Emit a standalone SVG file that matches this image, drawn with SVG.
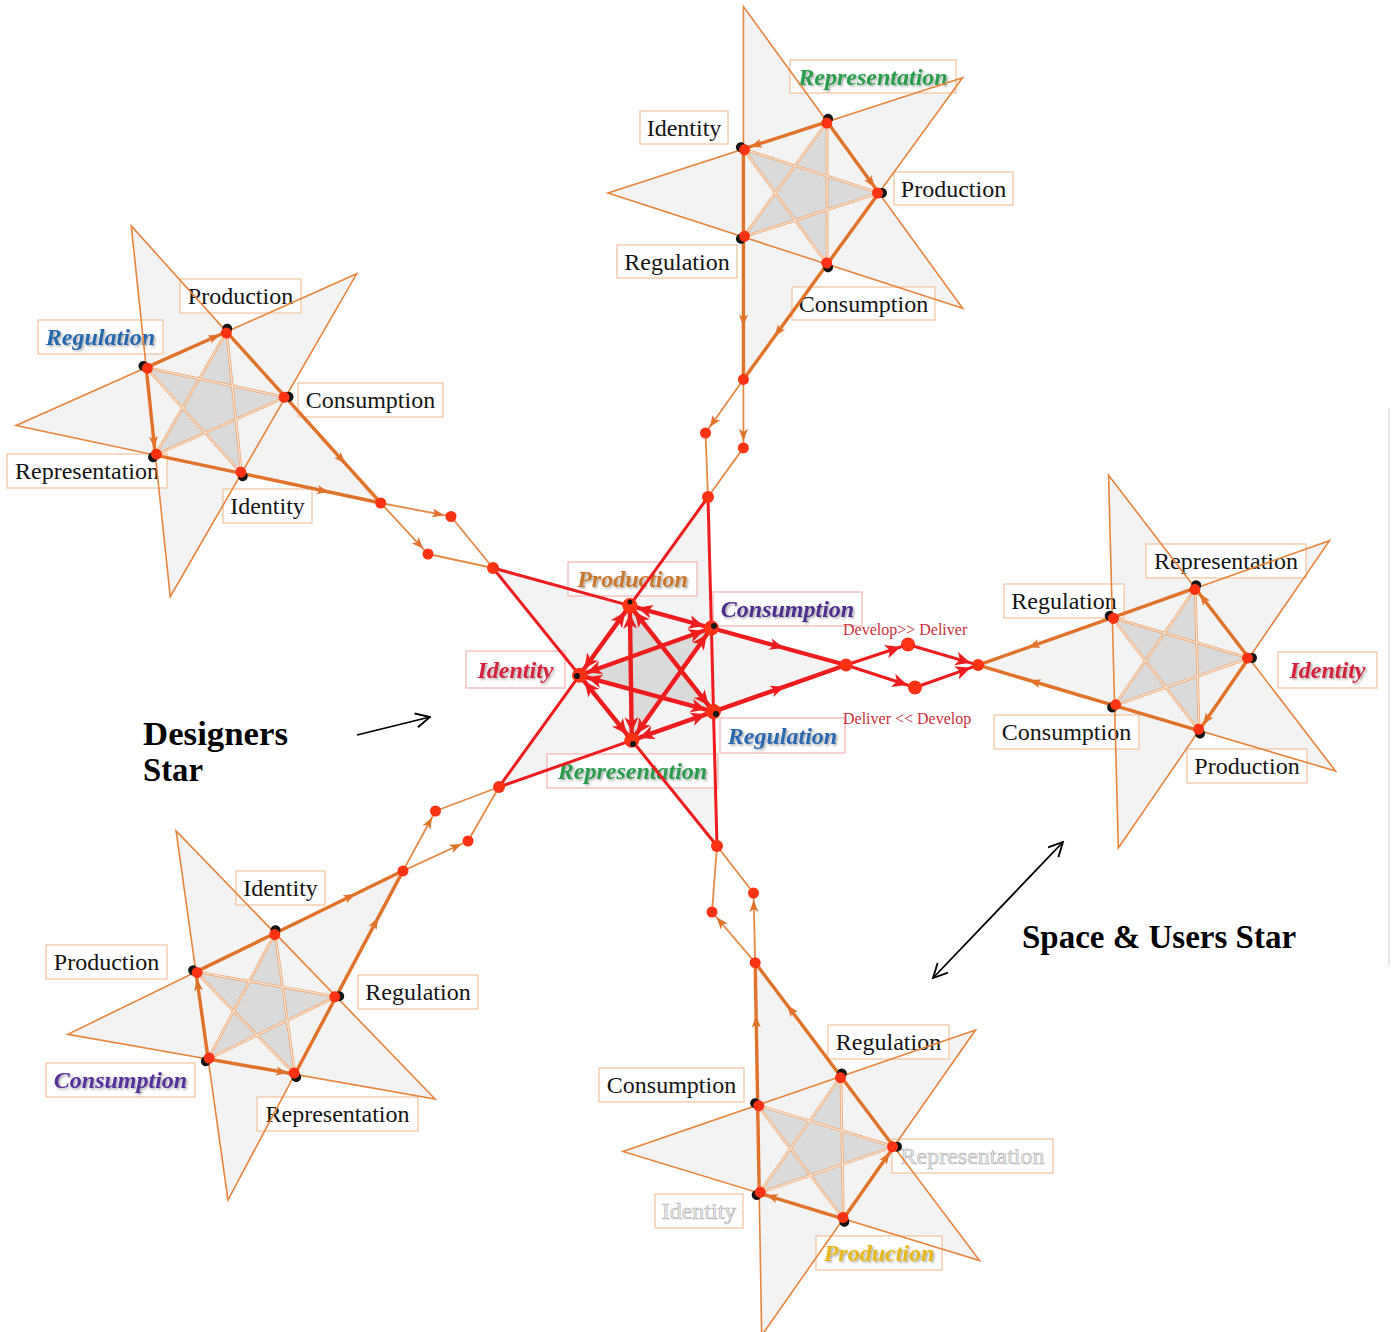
<svg xmlns="http://www.w3.org/2000/svg" xmlns:xlink="http://www.w3.org/1999/xlink" width="1395" height="1332" viewBox="0 0 1395 1332">
<style>
  .sf { fill:#f3f3f3; }
  .pf { fill:#dadada; }
  .so { fill:none; stroke:#e8843a; stroke-width:1.6; stroke-linejoin:miter; }
  .dg { fill:none; stroke:#f0aa76; stroke-width:2.8; }
  .dg2 { fill:none; stroke:#fcebdc; stroke-width:1; }
  .fl { fill:none; stroke:#e0722a; stroke-width:3.4; stroke-linejoin:round; }
  .mk { fill:none; stroke:none; }
  .oc { fill:none; stroke:#e58a45; stroke-width:1.8; }
  .bd { fill:#151515; }
  .rd { fill:#ff3214; }
  .lb { fill:#ffffff; stroke:#f1c6a2; stroke-width:1.3; }
  .lt { font-family:"Liberation Serif","Times New Roman",serif; font-size:24px; fill:#141414; text-anchor:middle; }
  .it { font-style:italic; font-weight:bold; filter:url(#sh); }
  .fd { fill:#ececec; stroke:#b4b4b4; stroke-width:0.7; }
  .rt { fill:none; stroke:#ee1c1c; stroke-width:3; }
  .rk { fill:none; stroke:#ee1c1c; stroke-width:4.4; stroke-linecap:round; }
  .small { font-family:"Liberation Serif","Times New Roman",serif; font-size:16px; fill:#c9303c; }
  .big { font-family:"Liberation Serif","Times New Roman",serif; font-size:33px; font-weight:bold; fill:#000; }
  .ka { fill:none; stroke:#000; stroke-width:1.8; }
</style>
<defs>
  <filter id="sh" x="-10%" y="-20%" width="130%" height="150%">
    <feDropShadow dx="1.5" dy="1.5" stdDeviation="1" flood-color="#000" flood-opacity="0.35"/>
  </filter>
  <marker id="oa" viewBox="0 0 22 10" refX="19" refY="5" markerWidth="22" markerHeight="10" markerUnits="userSpaceOnUse" orient="auto">
    <path d="M0,0.5 L12,5 L0,9.5 L3,5 z" fill="#e0722a"/>
  </marker>
  <marker id="om" viewBox="0 0 12 10" refX="8" refY="5" markerWidth="12" markerHeight="10" markerUnits="userSpaceOnUse" orient="auto">
    <path d="M0,0.5 L12,5 L0,9.5 L3,5 z" fill="#e0722a"/>
  </marker>
  <marker id="ra" viewBox="0 0 26 14" refX="23" refY="7" markerWidth="26" markerHeight="14" markerUnits="userSpaceOnUse" orient="auto-start-reverse">
    <path d="M0,0 L15,7 L0,14 L4,7 z" fill="#ee1c1c"/>
  </marker>
  <marker id="rm" viewBox="0 0 14 12" refX="9" refY="6" markerWidth="14" markerHeight="12" markerUnits="userSpaceOnUse" orient="auto">
    <path d="M0,0 L14,6 L0,12 L4,6 z" fill="#ee1c1c"/>
  </marker>
  <marker id="ka" viewBox="0 0 12 12" refX="11" refY="6" markerWidth="17" markerHeight="17" markerUnits="userSpaceOnUse" orient="auto-start-reverse">
    <path d="M1,1 L11,6 L1,11" fill="none" stroke="#000" stroke-width="1.3"/>
  </marker>

  <!-- outer star, unit frame: tips at 36+72k (tip 36 faces the centre), inner vertices at 72k -->
  <g id="sfill">
    <polygon class="sf" points="158.57,115.21 23.13,71.2 -60.57,186.41 -60.57,44 -196,0 -60.57,-44 -60.57,-186.41 23.13,-71.2 158.57,-115.21 74.87,0"/>
    <polygon class="pf" points="74.87,0 -60.57,44 23.13,-71.2 23.13,71.2 -60.57,-44"/>
  </g>
  <g id="slines">
    <path class="dg" d="M74.87,0 L-60.57,44 L23.13,-71.2 L23.13,71.2 L-60.57,-44 Z"/>
    <path class="dg2" d="M74.87,0 L-60.57,44 L23.13,-71.2 L23.13,71.2 L-60.57,-44 Z"/>
    <path class="so" d="M158.57,115.21 L-196,0 L158.57,-115.21 L-60.57,186.41 L-60.57,-186.41 Z"/>
    <path class="fl" d="M-60.57,-44 L23.13,-71.2 L74.87,0 L158.57,115.21"/>
    <path class="fl" d="M-60.57,-44 L-60.57,44 L23.13,71.2 L158.57,115.21"/>
    <path class="mk" d="M-60.57,-44 L23.13,-71.2" marker-end="url(#oa)"/>
    <path class="mk" d="M-60.57,-44 L-60.57,44" marker-end="url(#oa)"/>
    <path class="mk" d="M74.87,0 L125.09,69.13 L158.57,115.21" marker-mid="url(#om)"/>
    <path class="mk" d="M23.13,71.2 L104.39,97.61 L158.57,115.21" marker-mid="url(#om)"/>
  </g>
  <g id="sdot">
    <circle class="bd" cx="78" cy="0" r="5"/>
    <circle class="rd" cx="73.5" cy="0" r="5.5"/>
  </g>
  <g id="sdots">
    <use href="#sdot"/>
    <use href="#sdot" transform="rotate(72)"/>
    <use href="#sdot" transform="rotate(144)"/>
    <use href="#sdot" transform="rotate(216)"/>
    <use href="#sdot" transform="rotate(288)"/>
  </g>
</defs>

<rect width="1395" height="1332" fill="#ffffff"/>
<line x1="1389" y1="408" x2="1389" y2="965" stroke="#dedede" stroke-width="1.5"/>

<!-- top star -->
<g id="star-top">
  <use href="#sfill" transform="translate(804,193) rotate(72)"/>
  <rect class="lb" x="790" y="60" width="166" height="33"/>
  <text class="lt it" x="873" y="85" style="fill:#2a9d4b">Representation</text>
  <rect class="lb" x="640" y="111" width="88" height="33"/>
  <text class="lt" x="684" y="136">Identity</text>
  <rect class="lb" x="894" y="172" width="119" height="33"/>
  <text class="lt" x="953.5" y="197">Production</text>
  <rect class="lb" x="617" y="245" width="120" height="33"/>
  <text class="lt" x="677" y="270">Regulation</text>
  <rect class="lb" x="792" y="287" width="143" height="33"/>
  <text class="lt" x="863.5" y="312">Consumption</text>
  <use href="#slines" transform="translate(804,193) rotate(72)"/>
  <use href="#sdots" transform="translate(804,193) rotate(72)"/>
</g>

<!-- upper-left star -->
<g id="star-upper-left">
  <use href="#sfill" transform="translate(211,405) rotate(-6)"/>
  <rect class="lb" x="180" y="279" width="121" height="34"/>
  <text class="lt" x="240.5" y="304">Production</text>
  <rect class="lb" x="38" y="320" width="125" height="34"/>
  <text class="lt it" x="100.5" y="345" style="fill:#2768ae">Regulation</text>
  <rect class="lb" x="298" y="383" width="145" height="34"/>
  <text class="lt" x="370.5" y="408">Consumption</text>
  <rect class="lb" x="7" y="454" width="160" height="34"/>
  <text class="lt" x="87" y="479">Representation</text>
  <rect class="lb" x="223" y="489" width="89" height="34"/>
  <text class="lt" x="267.5" y="514">Identity</text>
  <use href="#slines" transform="translate(211,405) rotate(-6)"/>
  <use href="#sdots" transform="translate(211,405) rotate(-6)"/>
</g>

<!-- right star -->
<g id="star-right">
  <use href="#sfill" transform="translate(1174,660) rotate(142.5)"/>
  <rect class="lb" x="1146" y="544" width="160" height="34"/>
  <text class="lt" x="1226" y="569">Representation</text>
  <rect class="lb" x="1004" y="584" width="120" height="34"/>
  <text class="lt" x="1064" y="609">Regulation</text>
  <rect class="lb" x="1278" y="652" width="99" height="36"/>
  <text class="lt it" x="1327.5" y="678" style="fill:#d4213b">Identity</text>
  <rect class="lb" x="994" y="715" width="145" height="34"/>
  <text class="lt" x="1066.5" y="740">Consumption</text>
  <rect class="lb" x="1187" y="749" width="120" height="34"/>
  <text class="lt" x="1247" y="774">Production</text>
  <use href="#slines" transform="translate(1174,660) rotate(142.5)"/>
  <use href="#sdots" transform="translate(1174,660) rotate(142.5)"/>
</g>

<!-- lower-left star -->
<g id="star-lower-left">
  <use href="#sfill" transform="translate(262,1007) rotate(-80)"/>
  <rect class="lb" x="236" y="871" width="89" height="34"/>
  <text class="lt" x="280.5" y="896">Identity</text>
  <rect class="lb" x="46" y="945" width="121" height="34"/>
  <text class="lt" x="106.5" y="970">Production</text>
  <rect class="lb" x="358" y="975" width="120" height="34"/>
  <text class="lt" x="418" y="1000">Regulation</text>
  <rect class="lb" x="46" y="1063" width="149" height="34"/>
  <text class="lt it" x="120.5" y="1088" style="fill:#55309a">Consumption</text>
  <rect class="lb" x="257" y="1097" width="161" height="34"/>
  <text class="lt" x="337.5" y="1122">Representation</text>
  <use href="#slines" transform="translate(262,1007) rotate(-80)"/>
  <use href="#sdots" transform="translate(262,1007) rotate(-80)"/>
</g>

<!-- bottom star -->
<g id="star-bottom">
  <use href="#sfill" transform="translate(819,1148) rotate(215)"/>
  <rect class="lb" x="828" y="1025" width="121" height="34"/>
  <text class="lt" x="888.5" y="1050">Regulation</text>
  <rect class="lb" x="599" y="1068" width="145" height="34"/>
  <text class="lt" x="671.5" y="1093">Consumption</text>
  <rect class="lb" x="892" y="1139" width="161" height="34"/>
  <text class="lt fd" x="972.5" y="1164">Representation</text>
  <rect class="lb" x="655" y="1194" width="88" height="34"/>
  <text class="lt fd" x="699" y="1219">Identity</text>
  <rect class="lb" x="816" y="1236" width="126" height="34"/>
  <text class="lt it" x="879" y="1261" style="fill:#e9b71c">Production</text>
  <use href="#slines" transform="translate(819,1148) rotate(215)"/>
  <use href="#sdots" transform="translate(819,1148) rotate(215)"/>
</g>

<!-- central designers star -->
<g id="star-centre">
  <polygon class="sf" points="708,497 711.4,628 846,665 713.5,711.6 717,846 631.8,740.3 499,787 579.5,675.3 493,568 629.8,605.6"/>
  <polygon class="pf" points="711.4,628 631.8,740.3 629.8,605.6 713.5,711.6 579.5,675.3"/>
  <rect class="lb" x="568" y="562" width="129" height="34" style="stroke:#f2b7b7"/>
  <text class="lt it" x="632.5" y="587" style="fill:#c9772e">Production</text>
  <rect class="lb" x="713" y="592" width="149" height="34" style="stroke:#f2b7b7"/>
  <text class="lt it" x="787.5" y="617" style="fill:#4e2d8c">Consumption</text>
  <rect class="lb" x="466" y="651" width="99" height="37" style="stroke:#f2b7b7"/>
  <text class="lt it" x="515.5" y="678" style="fill:#d4213b">Identity</text>
  <rect class="lb" x="720" y="718" width="125" height="35" style="stroke:#f2b7b7"/>
  <text class="lt it" x="782.5" y="744" style="fill:#2b68b0">Regulation</text>
  <rect class="lb" x="547" y="754" width="171" height="34" style="stroke:#f2b7b7"/>
  <text class="lt it" x="632.5" y="779" style="fill:#2a9a4c">Representation</text>

  <!-- outer legs -->
  <path class="rt" d="M493,568 L629.8,605.6 M708,497 L629.8,605.6 M708,497 L711.4,628 M499,787 L579.5,675.3 M493,568 L579.5,675.3 M499,787 L631.8,740.3 M717,846 L631.8,740.3 M717,846 L713.5,711.6 M711.4,628 L713.5,711.6"/>
  <path class="rk" d="M711.4,628 L778.7,646.5 L846,665" marker-mid="url(#rm)"/>
  <path class="rk" d="M713.5,711.6 L779.8,688.3 L846,665" marker-mid="url(#rm)"/>
  <!-- inner pentagon edges -->
  <line class="rk" x1="629.8" y1="605.6" x2="711.4" y2="628" marker-start="url(#ra)" marker-end="url(#ra)"/>
  <line class="rk" x1="713.5" y1="711.6" x2="631.8" y2="740.3" marker-start="url(#ra)" marker-end="url(#ra)"/>
  <line class="rk" x1="631.8" y1="740.3" x2="579.5" y2="675.3" marker-start="url(#ra)" marker-end="url(#ra)"/>
  <line class="rk" x1="579.5" y1="675.3" x2="629.8" y2="605.6" marker-start="url(#ra)" marker-end="url(#ra)"/>
  <!-- inner diagonals -->
  <line class="rk" x1="629.8" y1="605.6" x2="631.8" y2="740.3" marker-start="url(#ra)" marker-end="url(#ra)"/>
  <line class="rk" x1="629.8" y1="605.6" x2="713.5" y2="711.6" marker-start="url(#ra)" marker-end="url(#ra)"/>
  <line class="rk" x1="711.4" y1="628" x2="579.5" y2="675.3" marker-start="url(#ra)" marker-end="url(#ra)"/>
  <line class="rk" x1="711.4" y1="628" x2="631.8" y2="740.3" marker-start="url(#ra)" marker-end="url(#ra)"/>
  <line class="rk" x1="579.5" y1="675.3" x2="713.5" y2="711.6" marker-start="url(#ra)" marker-end="url(#ra)"/>
  <!-- inner vertices -->
  <g class="rd">
    <circle cx="629.8" cy="605.6" r="7.5"/>
    <circle cx="711.4" cy="628" r="7.5"/>
    <circle cx="713.5" cy="711.6" r="7.5"/>
    <circle cx="631.8" cy="740.3" r="7.5"/>
    <circle cx="579.5" cy="675.3" r="7.5"/>
  </g>
  <g class="bd">
    <circle cx="714" cy="626" r="3"/>
    <circle cx="716" cy="714" r="3"/>
    <circle cx="633" cy="744" r="3"/>
    <circle cx="577" cy="676" r="3"/>
    <circle cx="630" cy="602" r="2.5"/>
  </g>
</g>

<!-- links between the outer stars and the central star -->
<g id="connectors">
  <!-- top -->
  <line class="oc" x1="743.4" y1="379.4" x2="743.4" y2="447.9" marker-end="url(#oa)"/>
  <line class="oc" x1="743.4" y1="379.4" x2="705.5" y2="433" marker-end="url(#oa)"/>
  <line class="oc" x1="743.4" y1="447.9" x2="708" y2="497"/>
  <line class="oc" x1="705.5" y1="433" x2="708" y2="497"/>
  <!-- upper left -->
  <line class="oc" x1="380.7" y1="503" x2="451" y2="516.5" marker-end="url(#oa)"/>
  <line class="oc" x1="380.7" y1="503" x2="428" y2="554" marker-end="url(#oa)"/>
  <line class="oc" x1="451" y1="516.5" x2="493" y2="568"/>
  <line class="oc" x1="428" y1="554" x2="493" y2="568"/>
  <!-- lower left -->
  <line class="oc" x1="403" y1="870.9" x2="468" y2="841" marker-end="url(#oa)"/>
  <line class="oc" x1="403" y1="870.9" x2="435.5" y2="811" marker-end="url(#oa)"/>
  <line class="oc" x1="468" y1="841" x2="499" y2="787"/>
  <line class="oc" x1="435.5" y1="811" x2="499" y2="787"/>
  <!-- bottom -->
  <line class="oc" x1="755.2" y1="962.7" x2="753.5" y2="893" marker-end="url(#oa)"/>
  <line class="oc" x1="755.2" y1="962.7" x2="712" y2="912" marker-end="url(#oa)"/>
  <line class="oc" x1="753.5" y1="893" x2="717" y2="846"/>
  <line class="oc" x1="712" y1="912" x2="717" y2="846"/>
  <!-- right: develop / deliver -->
  <line class="oc" x1="978.1" y1="665.1" x2="908" y2="644.5"/>
  <line class="oc" x1="978.1" y1="665.1" x2="915" y2="687.5"/>
  <line class="rt" x1="846" y1="665" x2="908" y2="644.5" marker-end="url(#ra)"/>
  <line class="rt" x1="908" y1="644.5" x2="978.1" y2="665.1" marker-end="url(#ra)"/>
  <line class="rt" x1="846" y1="665" x2="915" y2="687.5" marker-end="url(#ra)"/>
  <line class="rt" x1="915" y1="687.5" x2="978.1" y2="665.1" marker-end="url(#ra)"/>
  <text class="small" x="843" y="635">Develop&gt;&gt; Deliver</text>
  <text class="small" x="843" y="724">Deliver &lt;&lt; Develop</text>
  <g class="rd">
    <circle cx="743.4" cy="379.4" r="5.5"/><circle cx="743.4" cy="447.9" r="5.5"/><circle cx="705.5" cy="433" r="5.5"/><circle cx="708" cy="497" r="6"/>
    <circle cx="380.7" cy="503" r="5.5"/><circle cx="451" cy="516.5" r="5.5"/><circle cx="428" cy="554" r="5.5"/><circle cx="493" cy="568" r="6"/>
    <circle cx="403" cy="870.9" r="5.5"/><circle cx="468" cy="841" r="5.5"/><circle cx="435.5" cy="811" r="5.5"/><circle cx="499" cy="787" r="6"/>
    <circle cx="755.2" cy="962.7" r="5.5"/><circle cx="753.5" cy="893" r="5.5"/><circle cx="712" cy="912" r="5.5"/><circle cx="717" cy="846" r="6"/>
    <circle cx="978.1" cy="665.1" r="6"/><circle cx="908" cy="644.5" r="7"/><circle cx="915" cy="687.5" r="7"/><circle cx="846" cy="665" r="6.5"/>
  </g>
</g>

<!-- captions -->
<g id="designers-caption">
  <text class="big" x="143" y="745" textLength="145" lengthAdjust="spacingAndGlyphs">Designers</text>
  <text class="big" x="143" y="781" textLength="60" lengthAdjust="spacingAndGlyphs">Star</text>
  <line class="ka" x1="357" y1="735" x2="430" y2="717" marker-end="url(#ka)"/>
</g>
<g id="space-users-caption">
  <text class="big" x="1022" y="948">Space &amp; Users Star</text>
  <line class="ka" x1="933" y1="978" x2="1063" y2="842" marker-start="url(#ka)" marker-end="url(#ka)"/>
</g>
</svg>
